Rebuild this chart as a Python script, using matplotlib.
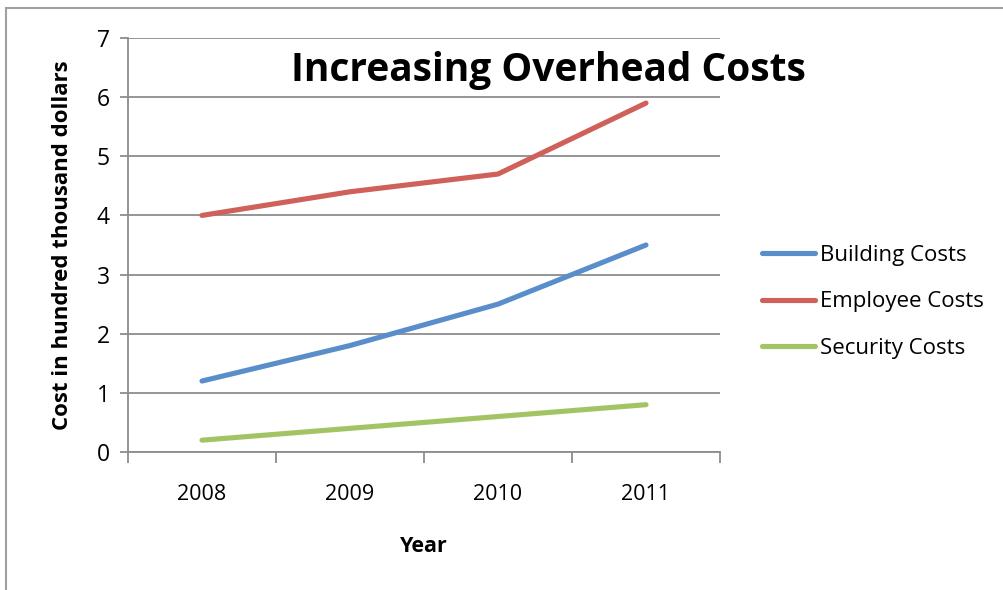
import matplotlib
matplotlib.use("Agg")
import matplotlib.pyplot as plt
from matplotlib.patches import Rectangle

years = ["2008", "2009", "2010", "2011"]
building = [1.2, 1.8, 2.5, 3.5]
employee = [4.0, 4.4, 4.7, 5.9]
security = [0.2, 0.4, 0.6, 0.8]
series_names = ["Building Costs", "Employee Costs", "Security Costs"]
colors = ["#5A8ECB", "#CF605A", "#A3C465"]

plt.rcParams['font.family'] = ['Open Sans', 'DejaVu Sans']

fig = plt.figure(figsize=(10.04, 5.90), dpi=100)
fig.patches.append(Rectangle((6/1004, -0.01), 1.0, 1 - 8/590 + 0.01, transform=fig.transFigure,
                             fill=False, edgecolor="#A0A0A0", linewidth=1.5))
ax = fig.add_axes([128/1004, 1 - 452/590, (720 - 128)/1004, (452 - 38)/590])

x = list(range(len(years)))
for vals, name, c in zip([building, employee, security], series_names, colors):
    ax.plot(x, vals, color=c, linewidth=3.7, solid_capstyle='round', label=name)

ax.set_xlim(-0.5, 3.5)
ax.set_ylim(0, 7)
ax.set_yticks(range(0, 8))
ax.yaxis.grid(True, color="#8C8C8C", linewidth=1.3)
ax.set_axisbelow(True)
ax.set_xticks([-0.5, 0.5, 1.5, 2.5, 3.5])
ax.set_xticklabels([])
ax.set_xticks(x, minor=True)
ax.set_xticklabels(years, minor=True, fontsize=15.5)
ax.tick_params(axis='x', which='minor', length=0, pad=23)
ax.tick_params(axis='x', which='major', length=8, color="#8C8C8C", width=1.3)
ax.tick_params(axis='y', length=6, color="#8C8C8C", width=1.3, labelsize=16.5, pad=7)
for s in ['top', 'right']:
    ax.spines[s].set_visible(False)
for s in ['left', 'bottom']:
    ax.spines[s].set_color("#8C8C8C")
    ax.spines[s].set_linewidth(1.3)

ax.set_xlabel("Year", fontsize=15.5, fontweight='bold', labelpad=22)
ax.set_ylabel("Cost in hundred thousand dollars", fontsize=16, fontweight='bold', labelpad=17)
fig.text(548/1004, 1 - 70/590, "Increasing Overhead Costs", fontsize=28, fontweight='bold',
         ha='center', va='center')

leg = fig.legend(loc='center left', bbox_to_anchor=(742/1004, 1 - 302/590), frameon=False,
                 fontsize=16, handlelength=2.4, handletextpad=0.2, labelspacing=1.15)

fig.savefig("out.png", dpi=100)
